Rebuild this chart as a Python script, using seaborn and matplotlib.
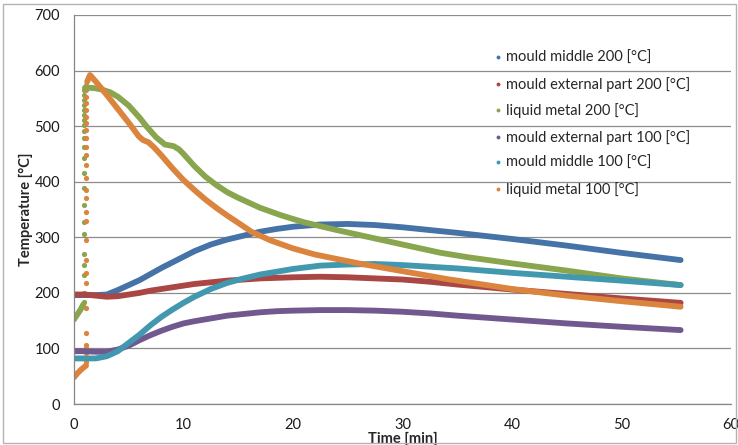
import numpy as np
import matplotlib
matplotlib.use("Agg")
import matplotlib.pyplot as plt
from matplotlib.lines import Line2D
from matplotlib.patches import Rectangle
import seaborn as sns

# data
t_mould = [0, 1, 2, 3, 4, 5, 6, 7, 8, 9, 10, 11, 12.5, 14, 15.5, 17, 18.5, 20,
           22.5, 25, 27.5, 30, 32.5, 35, 40, 45, 50, 55.4]
mould_middle_200 = [196, 196, 196, 197, 205, 214, 223, 234, 245, 255, 265, 275, 287, 296,
                    303, 310, 315, 319, 323, 324, 322, 318, 313, 308, 297, 285, 272, 259]
mould_external_200 = [197, 197, 195, 193, 194, 197, 200, 204, 207, 210, 213, 216, 219, 222,
                      224, 226, 227, 228, 229, 228, 226, 224, 220, 215, 206, 198, 190, 182]
mould_external_100 = [95, 95, 94, 94, 98, 105, 115, 124, 132, 139, 145, 149, 154, 159,
                      162, 165, 167, 168, 169, 169, 168, 166, 163, 159, 152, 145, 139, 133]
mould_middle_100 = [82, 82, 82, 86, 95, 110, 125, 142, 157, 170, 182, 193, 207, 218,
                    226, 233, 238, 243, 249, 251, 252, 250, 247, 244, 236, 229, 222, 214]

# liquid metal 200: heating ramp, fast rise (separate dots), then cooling
lm200_ramp_t = [0, 0.3, 0.6, 0.85]
lm200_ramp = [152, 161, 170, 179]
lm200_rise_t = 0.93
lm200_rise = [184, 199, 233, 251, 270, 306, 328, 358, 388, 415, 443, 463, 478, 491,
              502, 511, 520, 529, 538, 547, 556, 565]
lm200_t = [1.0, 1.5, 2.0, 2.5, 3.3, 4.0, 5.0, 6.0, 6.6, 7.5, 8.3, 9.1, 9.6, 10, 11, 12,
           13, 14, 15, 17, 19, 21, 24, 27, 30, 33.5, 36, 40, 45, 50, 55.4]
lm200 = [569, 569, 568, 566, 561, 553, 537, 515, 500, 480, 467, 464, 458, 450, 428, 409,
         394, 381, 371, 353, 339, 327, 313, 300, 287, 272, 264, 253, 240, 226, 214]

# liquid metal 100
lm100_ramp_t = [0, 0.3, 0.6, 0.9, 1.1]
lm100_ramp = [48, 55, 61, 66, 69]
lm100_rise_t = 1.12
lm100_rise = [75, 83, 92, 101, 106, 127, 172, 217, 235, 259, 296, 329, 346, 370, 385,
              407, 430, 448, 463, 479, 493, 505, 517, 529, 541, 553, 565, 574]
lm100_t = [1.2, 1.46, 2, 3, 4, 5, 5.9, 6.3, 6.8, 7.3, 8, 9, 10, 11, 12, 13, 14, 15, 16.2,
           18, 20, 22, 24, 26, 28, 30, 34, 40, 45, 50, 55.4]
lm100 = [580, 592, 580, 556, 531, 506, 482, 475, 471, 462, 447, 424, 403, 385, 368, 353,
         339, 326, 310, 294, 280, 269, 261, 253, 246, 239, 225, 207, 195, 185, 175]

labels = ["mould middle 200 [°C]", "mould external part 200 [°C]", "liquid metal 200 [°C]",
          "mould external part 100 [°C]", "mould middle 100 [°C]", "liquid metal 100 [°C]"]
colors = ["#4572A7", "#AA4643", "#89A54E", "#71588F", "#4198AF", "#DB843D"]

sns.set_style("white")
plt.rcParams["font.family"] = ["Lato", "DejaVu Sans"]

fig = plt.figure(figsize=(7.38, 4.45), dpi=100)
ax = fig.add_axes([74 / 738, 41 / 445, 657 / 738, 389 / 445])

lw = 4.2
ms = 14


def curve(x, y, c):
    sns.lineplot(x=x, y=y, ax=ax, color=c, lw=lw, sort=False, estimator=None,
                 solid_capstyle="round", solid_joinstyle="round")


def dots(t, y, c):
    sns.scatterplot(x=np.full(len(y), t), y=y, ax=ax, color=c, s=ms, linewidth=0)


curve(t_mould, mould_middle_200, colors[0])
curve(t_mould, mould_external_200, colors[1])
curve(lm200_ramp_t, lm200_ramp, colors[2])
dots(lm200_rise_t, lm200_rise, colors[2])
curve(lm200_t, lm200, colors[2])
curve(t_mould, mould_external_100, colors[3])
curve(t_mould, mould_middle_100, colors[4])
curve(lm100_ramp_t, lm100_ramp, colors[5])
dots(lm100_rise_t, lm100_rise, colors[5])
curve(lm100_t, lm100, colors[5])

ax.set_xlim(0, 60)
ax.set_ylim(0, 700)
ax.set_xticks(range(0, 61, 10))
ax.set_yticks(range(0, 701, 100))
ax.yaxis.grid(True, color="#8c8c8c", lw=0.9)
ax.set_axisbelow(True)
for s in ["top", "right"]:
    ax.spines[s].set_visible(False)
for s in ["left", "bottom"]:
    ax.spines[s].set_color("#868686")
    ax.spines[s].set_linewidth(0.9)
ax.tick_params(axis="both", direction="out", length=4, width=0.9, color="#868686",
               labelsize=10.5, labelcolor="#1a1a1a", pad=6)

ax.set_xlabel("Time [min]", fontsize=10.5, fontweight="bold")
ax.set_ylabel("Temperature [°C]", fontsize=10.5, fontweight="bold")
ax.xaxis.set_label_coords(0.5, -27.5 / 389)
ax.xaxis.label.set_va("top")
ax.yaxis.set_label_coords(-0.073, 0.5)
ax.yaxis.label.set_va("center")

handles = [Line2D([], [], ls="", marker="o", ms=2.8, color=c, mec="none") for c in colors]
ax.legend(handles, labels, loc="upper left", bbox_to_anchor=(486 / 738, 1 - 44 / 445),
          bbox_transform=fig.transFigure, frameon=False, fontsize=10.5,
          handlelength=0.6, handletextpad=0.3, labelspacing=0.79, borderpad=0)

fig.patches.append(Rectangle((3 / 738, 2 / 445), 733 / 738, 439 / 445, transform=fig.transFigure,
                             fill=False, edgecolor="#b3b3b3", lw=1))

fig.savefig("out.png", dpi=100)
